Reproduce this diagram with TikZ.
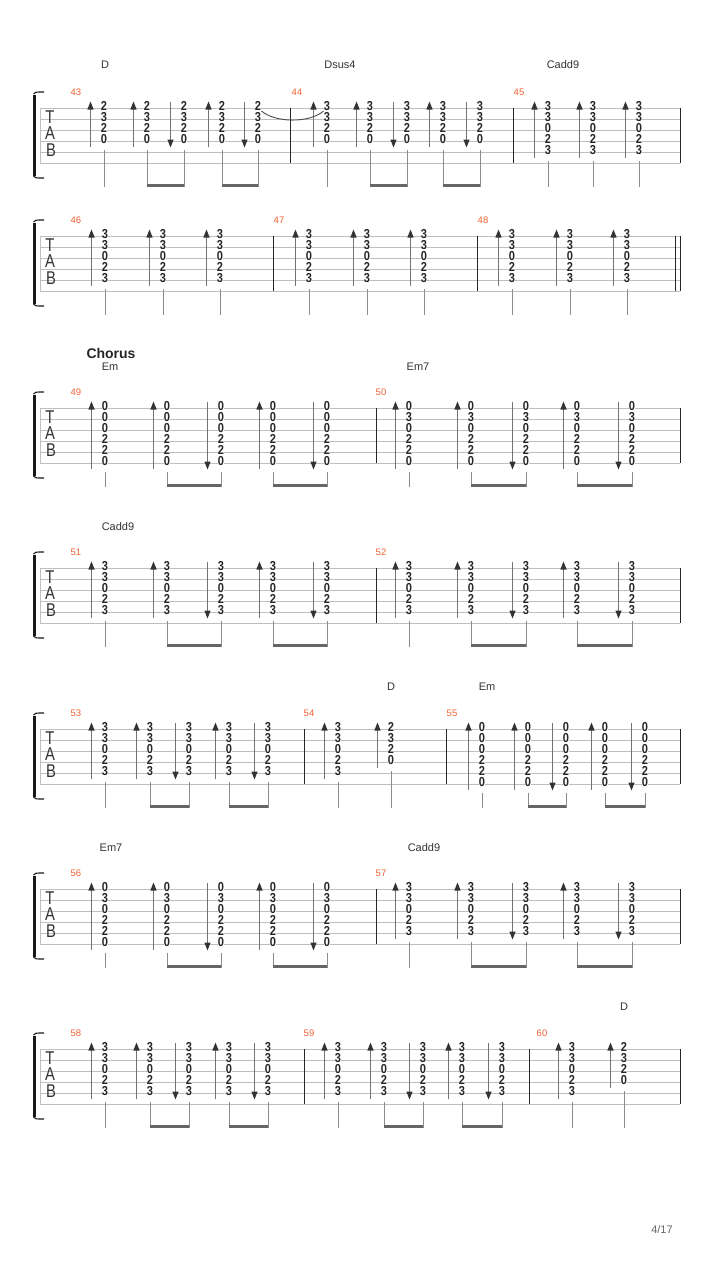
\documentclass[tikz,border=0pt]{standalone}
\usepackage{fontspec}
\setmainfont{Liberation Sans}
\usetikzlibrary{arrows.meta}

\definecolor{barorange}{RGB}{242,98,50}

% frets, top string first
\newcommand{\fretsD}{2,3,2,0}
\newcommand{\fretsDsus}{3,3,2,0}
\newcommand{\fretsC}{3,3,0,2,3}
\newcommand{\fretsEm}{0,0,0,2,2,0}
\newcommand{\fretsEmS}{0,3,0,2,2,0}

% six lines, clef and bracket: name, top line
\newcommand{\tabstaff}[2]{%
  \foreach \k in {0,...,5}
    \draw[staffline] (40,#2+11*\k) -- (680,#2+11*\k);
  \draw[staffline] (40,#2) -- (40,#2+55);
  \draw[bracketline] (34.5,#2-13.5) -- (34.5,#2+67.5);
  \draw[bracketend] (33.5,#2-14) .. controls (35,#2-16) .. (44,#2-16);
  \draw[bracketend] (33.5,#2+68) .. controls (35,#2+70) .. (44,#2+70);
  \node[clef] (#1-T) at (50,#2+9.5) {T};
  \node[clef] (#1-A) at (50,#2+25.5) {A};
  \node[clef] (#1-B) at (51,#2+42.5) {B};
}
% one chord: name, x, top line, frets, strings used
\newcommand{\tabchord}[5]{%
  \foreach \f [count=\s] in #4
    \node[fret] (#1-\s) at (#2,#3+11*\s-13) {\f};
  \draw[stemline] (#2,#3+11*#5-2) -- (#2,#3+79);
}
\newcommand{\strumup}[5]{%
  \tabchord{#1}{#2}{#3}{#4}{#5}
  \draw[strokearrow] (#2-13.5,#3+11*#5-5) -- (#2-13.5,#3-6.5);
}
\newcommand{\strumdown}[5]{%
  \tabchord{#1}{#2}{#3}{#4}{#5}
  \draw[strokearrow] (#2-13.5,#3-6.5) -- (#2-13.5,#3+11*#5-4.5);
}

\begin{document}
\begin{tikzpicture}[x=1pt, y=-1pt,
    staffline/.style={draw=black!25, line width=0.7pt},
    barline/.style={draw=black!85, line width=0.9pt},
    bracketline/.style={draw=black!90, line width=3pt},
    bracketend/.style={draw=black!90, line width=1.1pt},
    clef/.style={inner sep=0pt, xscale=0.8, text=black!80, font=\fontsize{18.5}{18.5}\selectfont},
    fret/.style={fill=white, inner sep=0.3pt, xscale=0.85, text=black!85, font=\bfseries\fontsize{13}{13}\selectfont},
    stemline/.style={draw=black!45, line width=0.9pt},
    beamline/.style={draw=black!60, line width=2.6pt},
    strokearrow/.style={draw=black!55, line width=1.3pt, -{Triangle[length=8pt,width=6pt,color=black!80]}},
    tieline/.style={draw=black!70, line width=0.9pt},
    barno/.style={inner sep=0pt, text=barorange, font=\fontsize{9.5}{9.5}\selectfont},
    chordname/.style={inner sep=0pt, text=black!80, font=\fontsize{11}{11}\selectfont},
    section/.style={inner sep=0pt, text=black!85, font=\bfseries\fontsize{14}{14}\selectfont}]
    \useasboundingbox[fill=white] (0,0) rectangle (720,1280);

    % ---- system 1: bars 43-45
    \def\Y{108}
    \tabstaff{s1}{\Y}
    \node[chordname] (lab43) at (105,\Y-43) {D};
    \node[chordname] (lab44) at (340,\Y-43) {Dsus4};
    \node[chordname] (lab45) at (563,\Y-43) {Cadd9};
    \node[barno] (bar43) at (76,\Y-16) {43};
    \node[barno] (bar44) at (297,\Y-16) {44};
    \node[barno] (bar45) at (519,\Y-16) {45};
    \strumup{c43a}{104}{\Y}{\fretsD}{4}
    \strumup{c43b}{147}{\Y}{\fretsD}{4}
    \strumdown{c43c}{184}{\Y}{\fretsD}{4}
    \strumup{c43d}{222}{\Y}{\fretsD}{4}
    \strumdown{c43e}{258}{\Y}{\fretsD}{4}
    \strumup{c44a}{327}{\Y}{\fretsDsus}{4}
    \strumup{c44b}{370}{\Y}{\fretsDsus}{4}
    \strumdown{c44c}{407}{\Y}{\fretsDsus}{4}
    \strumup{c44d}{443}{\Y}{\fretsDsus}{4}
    \strumdown{c44e}{480}{\Y}{\fretsDsus}{4}
    \strumup{c45a}{548}{\Y}{\fretsC}{5}
    \strumup{c45b}{593}{\Y}{\fretsC}{5}
    \strumup{c45c}{639}{\Y}{\fretsC}{5}
    \draw[beamline] (147,\Y+77.7) -- (184,\Y+77.7);
    \draw[beamline] (222,\Y+77.7) -- (258,\Y+77.7);
    \draw[beamline] (370,\Y+77.7) -- (407,\Y+77.7);
    \draw[beamline] (443,\Y+77.7) -- (480,\Y+77.7);
    \foreach \b in {290,513,680}
        \draw[barline] (\b,\Y) -- (\b,\Y+55);
    \draw[tieline] (c43e-1.south east) .. controls +(14,12) and +(-14,12) .. (c44a-1.south west);

    % ---- system 2: bars 46-48
    \def\Y{236}
    \tabstaff{s2}{\Y}
    \node[barno] (bar46) at (76,\Y-16) {46};
    \node[barno] (bar47) at (279,\Y-16) {47};
    \node[barno] (bar48) at (483,\Y-16) {48};
    \strumup{c46a}{105}{\Y}{\fretsC}{5}
    \strumup{c46b}{163}{\Y}{\fretsC}{5}
    \strumup{c46c}{220}{\Y}{\fretsC}{5}
    \strumup{c47a}{309}{\Y}{\fretsC}{5}
    \strumup{c47b}{367}{\Y}{\fretsC}{5}
    \strumup{c47c}{424}{\Y}{\fretsC}{5}
    \strumup{c48a}{512}{\Y}{\fretsC}{5}
    \strumup{c48b}{570}{\Y}{\fretsC}{5}
    \strumup{c48c}{627}{\Y}{\fretsC}{5}
    \foreach \b in {273,477,675.5,680}
        \draw[barline] (\b,\Y) -- (\b,\Y+55);

    % ---- system 3: chorus, bars 49-50
    \def\Y{408}
    \tabstaff{s3}{\Y}
    \node[section] (chorus) at (111,\Y-55) {Chorus};
    \node[chordname] (lab49) at (110,\Y-41) {Em};
    \node[chordname] (lab50) at (418,\Y-41) {Em7};
    \node[barno] (bar49) at (76,\Y-16) {49};
    \node[barno] (bar50) at (381,\Y-16) {50};
    \strumup{c49a}{105}{\Y}{\fretsEm}{6}
    \strumup{c49b}{167}{\Y}{\fretsEm}{6}
    \strumdown{c49c}{221}{\Y}{\fretsEm}{6}
    \strumup{c49d}{273}{\Y}{\fretsEm}{6}
    \strumdown{c49e}{327}{\Y}{\fretsEm}{6}
    \strumup{c50a}{409}{\Y}{\fretsEmS}{6}
    \strumup{c50b}{471}{\Y}{\fretsEmS}{6}
    \strumdown{c50c}{526}{\Y}{\fretsEmS}{6}
    \strumup{c50d}{577}{\Y}{\fretsEmS}{6}
    \strumdown{c50e}{632}{\Y}{\fretsEmS}{6}
    \draw[beamline] (167,\Y+77.7) -- (221,\Y+77.7);
    \draw[beamline] (273,\Y+77.7) -- (327,\Y+77.7);
    \draw[beamline] (471,\Y+77.7) -- (526,\Y+77.7);
    \draw[beamline] (577,\Y+77.7) -- (632,\Y+77.7);
    \foreach \b in {376,680}
        \draw[barline] (\b,\Y) -- (\b,\Y+55);

    % ---- system 4: bars 51-52
    \def\Y{568}
    \tabstaff{s4}{\Y}
    \node[chordname] (lab51) at (118,\Y-41) {Cadd9};
    \node[barno] (bar51) at (76,\Y-16) {51};
    \node[barno] (bar52) at (381,\Y-16) {52};
    \strumup{c51a}{105}{\Y}{\fretsC}{5}
    \strumup{c51b}{167}{\Y}{\fretsC}{5}
    \strumdown{c51c}{221}{\Y}{\fretsC}{5}
    \strumup{c51d}{273}{\Y}{\fretsC}{5}
    \strumdown{c51e}{327}{\Y}{\fretsC}{5}
    \strumup{c52a}{409}{\Y}{\fretsC}{5}
    \strumup{c52b}{471}{\Y}{\fretsC}{5}
    \strumdown{c52c}{526}{\Y}{\fretsC}{5}
    \strumup{c52d}{577}{\Y}{\fretsC}{5}
    \strumdown{c52e}{632}{\Y}{\fretsC}{5}
    \draw[beamline] (167,\Y+77.7) -- (221,\Y+77.7);
    \draw[beamline] (273,\Y+77.7) -- (327,\Y+77.7);
    \draw[beamline] (471,\Y+77.7) -- (526,\Y+77.7);
    \draw[beamline] (577,\Y+77.7) -- (632,\Y+77.7);
    \foreach \b in {376,680}
        \draw[barline] (\b,\Y) -- (\b,\Y+55);

    % ---- system 5: bars 53-55
    \def\Y{729}
    \tabstaff{s5}{\Y}
    \node[chordname] (lab54) at (391,\Y-42) {D};
    \node[chordname] (lab55) at (487,\Y-42) {Em};
    \node[barno] (bar53) at (76,\Y-16) {53};
    \node[barno] (bar54) at (309,\Y-16) {54};
    \node[barno] (bar55) at (452,\Y-16) {55};
    \strumup{c53a}{105}{\Y}{\fretsC}{5}
    \strumup{c53b}{150}{\Y}{\fretsC}{5}
    \strumdown{c53c}{189}{\Y}{\fretsC}{5}
    \strumup{c53d}{229}{\Y}{\fretsC}{5}
    \strumdown{c53e}{268}{\Y}{\fretsC}{5}
    \strumup{c54a}{338}{\Y}{\fretsC}{5}
    \strumup{c54b}{391}{\Y}{\fretsD}{4}
    \strumup{c55a}{482}{\Y}{\fretsEm}{6}
    \strumup{c55b}{528}{\Y}{\fretsEm}{6}
    \strumdown{c55c}{566}{\Y}{\fretsEm}{6}
    \strumup{c55d}{605}{\Y}{\fretsEm}{6}
    \strumdown{c55e}{645}{\Y}{\fretsEm}{6}
    \draw[beamline] (150,\Y+77.7) -- (189,\Y+77.7);
    \draw[beamline] (229,\Y+77.7) -- (268,\Y+77.7);
    \draw[beamline] (528,\Y+77.7) -- (566,\Y+77.7);
    \draw[beamline] (605,\Y+77.7) -- (645,\Y+77.7);
    \foreach \b in {304,446,680}
        \draw[barline] (\b,\Y) -- (\b,\Y+55);

    % ---- system 6: bars 56-57
    \def\Y{889}
    \tabstaff{s6}{\Y}
    \node[chordname] (lab56) at (111,\Y-41) {Em7};
    \node[chordname] (lab57) at (424,\Y-41) {Cadd9};
    \node[barno] (bar56) at (76,\Y-16) {56};
    \node[barno] (bar57) at (381,\Y-16) {57};
    \strumup{c56a}{105}{\Y}{\fretsEmS}{6}
    \strumup{c56b}{167}{\Y}{\fretsEmS}{6}
    \strumdown{c56c}{221}{\Y}{\fretsEmS}{6}
    \strumup{c56d}{273}{\Y}{\fretsEmS}{6}
    \strumdown{c56e}{327}{\Y}{\fretsEmS}{6}
    \strumup{c57a}{409}{\Y}{\fretsC}{5}
    \strumup{c57b}{471}{\Y}{\fretsC}{5}
    \strumdown{c57c}{526}{\Y}{\fretsC}{5}
    \strumup{c57d}{577}{\Y}{\fretsC}{5}
    \strumdown{c57e}{632}{\Y}{\fretsC}{5}
    \draw[beamline] (167,\Y+77.7) -- (221,\Y+77.7);
    \draw[beamline] (273,\Y+77.7) -- (327,\Y+77.7);
    \draw[beamline] (471,\Y+77.7) -- (526,\Y+77.7);
    \draw[beamline] (577,\Y+77.7) -- (632,\Y+77.7);
    \foreach \b in {376,680}
        \draw[barline] (\b,\Y) -- (\b,\Y+55);

    % ---- system 7: bars 58-60
    \def\Y{1049}
    \tabstaff{s7}{\Y}
    \node[chordname] (lab60) at (624,\Y-42) {D};
    \node[barno] (bar58) at (76,\Y-16) {58};
    \node[barno] (bar59) at (309,\Y-16) {59};
    \node[barno] (bar60) at (542,\Y-16) {60};
    \strumup{c58a}{105}{\Y}{\fretsC}{5}
    \strumup{c58b}{150}{\Y}{\fretsC}{5}
    \strumdown{c58c}{189}{\Y}{\fretsC}{5}
    \strumup{c58d}{229}{\Y}{\fretsC}{5}
    \strumdown{c58e}{268}{\Y}{\fretsC}{5}
    \strumup{c59a}{338}{\Y}{\fretsC}{5}
    \strumup{c59b}{384}{\Y}{\fretsC}{5}
    \strumdown{c59c}{423}{\Y}{\fretsC}{5}
    \strumup{c59d}{462}{\Y}{\fretsC}{5}
    \strumdown{c59e}{502}{\Y}{\fretsC}{5}
    \strumup{c60a}{572}{\Y}{\fretsC}{5}
    \strumup{c60b}{624}{\Y}{\fretsD}{4}
    \draw[beamline] (150,\Y+77.7) -- (189,\Y+77.7);
    \draw[beamline] (229,\Y+77.7) -- (268,\Y+77.7);
    \draw[beamline] (384,\Y+77.7) -- (423,\Y+77.7);
    \draw[beamline] (462,\Y+77.7) -- (502,\Y+77.7);
    \foreach \b in {304,529,680}
        \draw[barline] (\b,\Y) -- (\b,\Y+55);

    % page number
    \node[inner sep=0pt, text=black!60, font=\fontsize{11}{11}\selectfont] (page) at (662,1230) {4/17};
\end{tikzpicture}
\end{document}
